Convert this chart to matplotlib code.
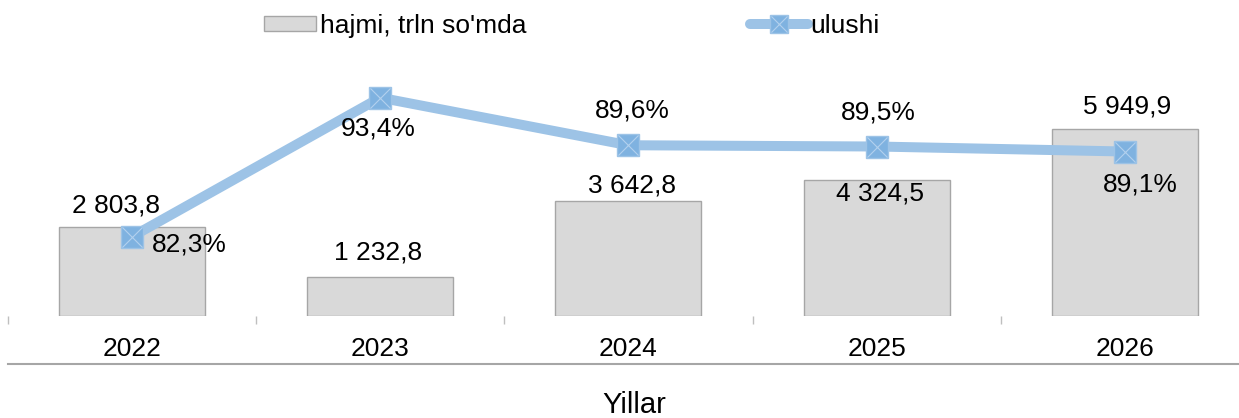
import numpy as np
import matplotlib
matplotlib.use("Agg")
import matplotlib.pyplot as plt
from matplotlib.lines import Line2D
from matplotlib.patches import Patch
from matplotlib.legend_handler import HandlerTuple

plt.rcParams["font.family"] = ["Liberation Sans", "DejaVu Sans"]

# data
years = ["2022", "2023", "2024", "2025", "2026"]
volume = [2803.8, 1232.8, 3642.8, 4324.5, 5949.9]   # hajmi, trln so'mda
share = [82.3, 93.4, 89.6, 89.5, 89.1]              # ulushi, %

# label offsets (pixels) picked to mimic the manual placement
vol_offsets = [(-16, 22), (-2, 24), (4, 16), (3, -14), (2, 22)]
pct_offsets = [(57, -8), (-2, -31), (4, 35), (2, 34), (16, -33)]

BAR_COLOR = "#d9d9d9"
BAR_EDGE = "#a6a6a6"
LINE_COLOR = "#9dc3e6"
MARK_COLOR = "#7fb2e0"
FS = 19


def fmt_num(v):
    return f"{v:,.1f}".replace(",", " ").replace(".", ",")


def fmt_pct(v):
    return f"{v:.1f}".replace(".", ",") + "%"


W, H = 1239, 418
fig = plt.figure(figsize=(W / 100, H / 100), dpi=100)
ax = fig.add_axes([7.9 / W, 102.5 / H, 1241 / W, 256 / H])

x = np.arange(len(years))
ax.bar(x, volume, width=0.588, color=BAR_COLOR, edgecolor=BAR_EDGE, linewidth=1)
ax.set_xlim(-0.5, 4.5)
ax.set_ylim(0, 8150)

for xi, v, (dx, dy) in zip(x, volume, vol_offsets):
    ax.annotate(fmt_num(v), (xi, v), xytext=(dx, dy), textcoords="offset pixels",
                ha="center", va="center", fontsize=FS)

ax.set_xticks(x)
ax.set_xticklabels(years, fontsize=FS)
ax.set_xticks(np.arange(-0.5, 5, 1), minor=True)
ax.tick_params(axis="x", which="major", length=0, pad=15.5)
ax.tick_params(axis="x", which="minor", length=5.5, width=1, color="#bfbfbf")
ax.yaxis.set_visible(False)
for s in ax.spines.values():
    s.set_visible(False)

# separator line under the category labels
ax.add_line(Line2D([0, 1], [-0.191, -0.191], transform=ax.transAxes,
                   color="#a6a6a6", linewidth=1.5, clip_on=False))

ax2 = ax.twinx()
ax2.set_ylim(76, 96.45)
ax2.plot(x, share, color=LINE_COLOR, linewidth=7.2, solid_capstyle="round",
         solid_joinstyle="round", zorder=2)
ax2.plot(x, share, linestyle="none", marker="s", markersize=16,
         markerfacecolor=MARK_COLOR, markeredgecolor=LINE_COLOR, markeredgewidth=1, zorder=3)
ax2.plot(x, share, linestyle="none", marker="x", markersize=14,
         markeredgecolor="#b3d1ee", markeredgewidth=0.8, zorder=4)
for xi, p, (dx, dy) in zip(x, share, pct_offsets):
    ax2.annotate(fmt_pct(p), (xi, p), xytext=(dx, dy), textcoords="offset pixels",
                 ha="center", va="center", fontsize=FS, zorder=5)
ax2.yaxis.set_visible(False)
for s in ax2.spines.values():
    s.set_visible(False)

fig.text(634 / W, 1 - 405 / H, "Yillar", ha="center", va="center", fontsize=21)

# legends
bar_handle = Patch(facecolor=BAR_COLOR, edgecolor=BAR_EDGE, linewidth=1)
fig.legend([bar_handle], ["hajmi, trln so'mda"], loc="center left",
           bbox_to_anchor=(264 / W, 1 - 26 / H), frameon=False, fontsize=FS,
           handlelength=1.97, handleheight=0.5, handletextpad=0.15,
           borderpad=0, borderaxespad=0)

line_h = Line2D([], [], color=LINE_COLOR, linewidth=7.2, solid_capstyle="round")
sq_h = Line2D([], [], linestyle="none", marker="s", markersize=13,
              markerfacecolor=MARK_COLOR, markeredgecolor=LINE_COLOR)
x_h = Line2D([], [], linestyle="none", marker="x", markersize=11,
             markeredgecolor="#b3d1ee", markeredgewidth=0.8)
fig.legend([(line_h, sq_h, x_h)], ["ulushi"], loc="center left",
           bbox_to_anchor=(750 / W, 1 - 26 / H), frameon=False, fontsize=FS,
           handlelength=2.2, handletextpad=0.1, borderpad=0, borderaxespad=0,
           handler_map={tuple: HandlerTuple(ndivide=1)})

fig.savefig("out.png", dpi=100)
